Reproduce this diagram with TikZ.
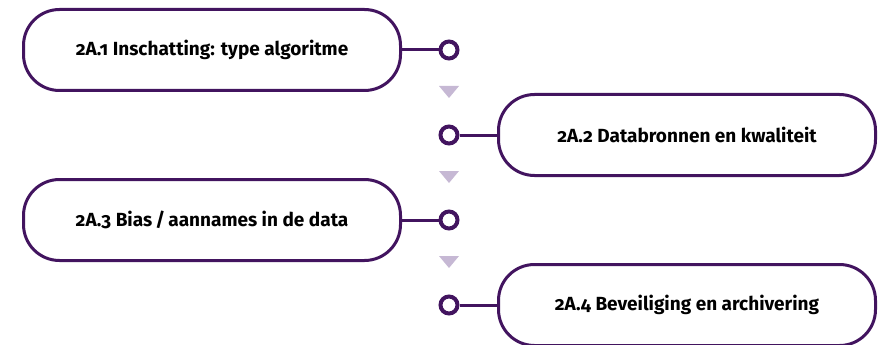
\documentclass[tikz,border=0pt]{standalone}
\usepackage{fontspec}
\setmainfont{Fira Sans}[Numbers=OldStyle]
\usetikzlibrary{positioning}
\definecolor{paars}{HTML}{42145F}
\definecolor{lila}{HTML}{C6B8D4}
\tikzset{
  stap/.style={draw=paars, line width=3pt, rounded corners=36pt,
    minimum width=377pt, minimum height=81pt,
    font=\bfseries\fontsize{19}{21}\selectfont},
  punt/.style={circle, draw=paars, line width=4pt, fill=white,
    minimum size=17pt, inner sep=0pt},
  lijn/.style={draw=paars, line width=3pt},
  pijl/.style={fill=lila}
}
\begin{document}
\begin{tikzpicture}[x=1pt,y=-1pt]
	\useasboundingbox (0,0) rectangle (884,345);
	% de vier stappen
	\foreach \n/\x/\y/\tekst in {1/212/50/{2A.1 Inschatting: type algoritme},
		2/687/135/{2A.2 Databronnen en kwaliteit},
		3/212/220/{2A.3 Bias\,/\,aannames in de data},
		4/687/305/{2A.4 Beveiliging en archivering}}{
			\node[stap] (stap\n) at (\x,\y) {\tekst};
			\node[punt] (punt\n) at (449,\y) {};
			\draw[lijn] (stap\n) -- (punt\n);
		}
	% pijltjes tussen de stappen
	\foreach \y in {86,171,256}{
		\fill[pijl] (439,\y) -- (459,\y) -- (449,\y+12) -- cycle;
	}
\end{tikzpicture}
\end{document}
